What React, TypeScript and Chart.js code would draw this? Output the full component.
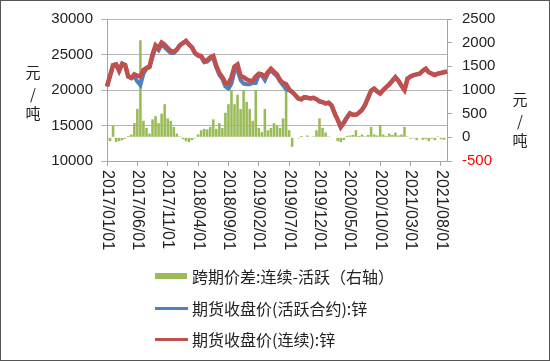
import React, { useEffect, useRef } from 'react';
import { Chart, registerables } from 'chart.js';

Chart.register(...registerables);

// Semi-monthly category labels, 2017/01/01 .. 2021/09/01
const START_YEAR = 2017;
const MONTH_COUNT = 56; // Jan 2017 .. Aug 2021 (two points per month) + 2021/09/01
const DATES: string[] = [];
for (let m = 0; m < MONTH_COUNT; m++) {
  const y = START_YEAR + Math.floor(m / 12);
  const mo = String((m % 12) + 1).padStart(2, '0');
  DATES.push(`${y}/${mo}/01`);
  DATES.push(`${y}/${mo}/16`);
}
DATES.push('2021/09/01');

const TICK_LABELS = [
  '2017/01/01', '2017/06/01', '2017/11/01', '2018/04/01', '2018/09/01', '2019/02/01',
  '2019/07/01', '2019/12/01', '2020/05/01', '2020/10/01', '2021/03/01', '2021/08/01',
];

const LEGEND_LABELS = ['跨期价差:连续-活跃（右轴）', '期货收盘价(活跃合约):锌', '期货收盘价(连续):锌'];
const AXIS_TITLE = ['元', '/', '吨'];

// 跨期价差 (right axis)
const SPREAD = [
  -50, -80, 250, -100, -80, -60, -30, 30, 60, 300,
  600, 2050, 350, 200, 80, 380, 450, 300, 500, 700,
  400, 350, 220, 80, 20, -40, -80, -100, -60, -20,
  60, 150, 180, 170, 220, 380, 180, 300, 200, 520,
  700, 1000, 700, 900, 600, 1000, 750, 600, 350, 1000,
  200, 110, 600, 150, 200, 300, 250, 200, 400, 1000,
  150, -200, 10, -20, 30, 10, 40, 0, 20, 150,
  400, 200, 100, 20, 0, 10, -80, -100, -60, 30,
  40, 50, 150, 30, 60, 20, 50, 220, 60, 40,
  260, 60, 30, 80, 50, 100, 40, 60, 220, 20,
  -30, -20, -60, 0, -50, -40, -80, -30, -60, 20,
  -40, -50, 0,
];

// 期货收盘价(活跃合约)
const ACTIVE = [
  20500, 22000, 23500, 23600, 22700, 23700, 23500, 21900, 21700, 21900,
  21200, 20700, 22300, 23000, 23200, 24700, 26000, 25600, 26400, 26000,
  25600, 25200, 25200, 25650, 26300, 26600, 26900, 26400, 26000, 25150,
  24800, 24650, 23900, 24000, 24400, 24500, 23200, 22150, 21550, 20500,
  20200, 20900, 22700, 22800, 21400, 20900, 20800, 20800, 21000, 21000,
  22100, 22050, 21400, 22300, 22800, 22300, 21950, 21200, 20650, 20100,
  19950, 19750, 19300, 18800, 18700, 19000, 18900, 18800, 18900, 18700,
  18400, 18300, 18100, 18200, 17800, 16700, 15800, 14800, 15400, 16100,
  16700, 16500, 16500, 16800, 17200, 17900, 18900, 19900, 20200, 19800,
  19500, 20000, 20400, 20800, 21300, 21800, 21300, 20600, 20000, 21600,
  21900, 22100, 22200, 22300, 22700, 23000, 22500, 22300, 22100, 22300,
  22400, 22500, 22600,
];

// 期货收盘价(连续)
const CONTINUOUS = [
  20500, 22000, 23500, 23600, 22700, 23700, 23500, 21900, 21700, 22200,
  22000, 21900, 22800, 23100, 23300, 25000, 26300, 25900, 26700, 26400,
  25900, 25500, 25400, 25700, 26300, 26600, 26900, 26400, 26000, 25200,
  24900, 24800, 24100, 24200, 24600, 24800, 23400, 22400, 21800, 21000,
  20900, 21800, 23300, 23600, 22000, 21800, 21500, 21300, 21300, 21900,
  22300, 22200, 21900, 22500, 23000, 22600, 22200, 21400, 21000, 20800,
  20100, 19700, 19300, 18800, 18700, 19000, 18900, 18800, 18900, 18700,
  18400, 18300, 18100, 18200, 17800, 16700, 15800, 14800, 15400, 16100,
  16700, 16500, 16500, 16800, 17200, 17900, 18900, 19900, 20200, 19800,
  19500, 20000, 20400, 20800, 21300, 21800, 21300, 20600, 20000, 21600,
  21900, 22100, 22200, 22300, 22700, 23000, 22500, 22300, 22100, 22300,
  22400, 22500, 22600,
];

const GREEN = '#9BBB59';
const BLUE = '#4F81BD';
const RED = '#C0504D';
const AXIS_GRAY = '#a6a6a6';
const TEXT = '#222';

const xLabelPlugin = {
  id: 'xLabelsClockwise',
  afterDraw(chart: any) {
    const sc = chart.scales.x;
    const ctx = chart.ctx;
    ctx.save();
    ctx.font = '16px "Liberation Sans", Arial, sans-serif';
    ctx.fillStyle = TEXT;
    ctx.textAlign = 'left';
    ctx.textBaseline = 'middle';
    sc.ticks.forEach((t: any, i: number) => {
      const x = sc.getPixelForTick(i);
      ctx.save();
      ctx.translate(x, sc.top + 9);
      ctx.rotate(Math.PI / 2);
      ctx.fillText(String(sc.getLabelForValue(t.value)), 0, 0);
      ctx.restore();
    });
    ctx.restore();
  },
};

export default function App() {
  const ref = useRef<HTMLCanvasElement | null>(null);

  useEffect(() => {
    document.body.style.margin = '0';
    if (!ref.current) return;
    const chart = new Chart(ref.current, {
      type: 'bar',
      data: {
        labels: DATES,
        datasets: [
          {
            type: 'bar',
            label: LEGEND_LABELS[0],
            data: SPREAD,
            backgroundColor: GREEN,
            borderWidth: 0,
            barPercentage: 0.85,
            categoryPercentage: 1,
            yAxisID: 'y1',
            order: 3,
          } as any,
          {
            type: 'line',
            label: LEGEND_LABELS[1],
            data: ACTIVE,
            borderColor: BLUE,
            borderWidth: 4,
            pointRadius: 0,
            tension: 0,
            yAxisID: 'y',
            order: 2,
          },
          {
            type: 'line',
            label: LEGEND_LABELS[2],
            data: CONTINUOUS,
            borderColor: RED,
            borderWidth: 4.5,
            pointRadius: 0,
            tension: 0,
            yAxisID: 'y',
            order: 1,
          },
        ],
      },
      options: {
        responsive: false,
        animation: false,
        layout: { padding: { top: 19, bottom: 100, left: 0, right: 0 } },
        plugins: { legend: { display: false }, tooltip: { enabled: false } },
        scales: {
          x: {
            type: 'category',
            offset: false,
            grid: { display: true, drawOnChartArea: false, offset: false, tickLength: 5, color: AXIS_GRAY },
            border: { display: true, color: AXIS_GRAY },
            ticks: {
              autoSkip: false,
              maxRotation: 90,
              minRotation: 90,
              color: 'rgba(0,0,0,0)',
              font: { size: 16, family: '"Liberation Sans", Arial, sans-serif' },
            },
            afterBuildTicks: (s: any) => {
              s.ticks = s.ticks.filter((t: any) => TICK_LABELS.includes(DATES[t.value]));
            },
            afterFit: (s: any) => {
              s.height = 100;
            },
          },
          y: {
            position: 'left',
            min: 10000,
            max: 30000,
            grid: { color: '#b5b5b5', tickLength: 6 },
            border: { display: true, color: AXIS_GRAY },
            ticks: {
              stepSize: 5000,
              padding: 8,
              color: TEXT,
              font: { size: 15, family: '"Liberation Sans", Arial, sans-serif' },
              callback: (v: any) => String(v),
            },
            afterFit: (s: any) => {
              s.width = 107;
            },
          },
          y1: {
            position: 'right',
            min: -500,
            max: 2500,
            grid: { drawOnChartArea: false, tickLength: 5, color: AXIS_GRAY },
            border: { display: true, color: AXIS_GRAY },
            ticks: {
              stepSize: 500,
              padding: 10,
              color: (c: any) => (c.tick && c.tick.value < 0 ? '#ff0000' : TEXT),
              font: { size: 15, family: '"Liberation Sans", Arial, sans-serif' },
              callback: (v: any) => String(v),
            },
            afterFit: (s: any) => {
              s.width = 103;
            },
          },
        },
      },
      plugins: [xLabelPlugin],
    });
    return () => chart.destroy();
  }, []);

  const cjk = '"Noto Sans CJK SC", "Noto Sans", sans-serif';
  const titleStyle = (x: number, y: number): React.CSSProperties => ({
    position: 'absolute',
    left: x - 10,
    top: y - 10,
    width: 20,
    height: 20,
    lineHeight: '20px',
    textAlign: 'center',
    fontFamily: cjk,
    fontSize: 15,
    color: TEXT,
  });
  const legendRow = (y: number): React.CSSProperties => ({
    position: 'absolute',
    left: 155,
    top: y - 11,
    height: 22,
    display: 'flex',
    alignItems: 'center',
    fontFamily: cjk,
    fontSize: 16,
    color: TEXT,
    whiteSpace: 'nowrap',
  });
  const leftY = [72, 94, 113];
  const rightY = [99, 121, 140];

  return (
    <div style={{ position: 'relative', width: 550, height: 361, background: '#fff', overflow: 'hidden' }}>
      <canvas ref={ref} width={550} height={361} style={{ position: 'absolute', left: 0, top: 0, width: 550, height: 361 }} />
      {AXIS_TITLE.map((t, i) => (
        <div key={'l' + i} style={titleStyle(33, leftY[i])}>{t}</div>
      ))}
      {AXIS_TITLE.map((t, i) => (
        <div key={'r' + i} style={titleStyle(520, rightY[i])}>{t}</div>
      ))}
      <div style={legendRow(276)}>
        <span style={{ display: 'inline-block', width: 32, height: 6, background: GREEN, marginRight: 5 }} />
        <span>{LEGEND_LABELS[0]}</span>
      </div>
      <div style={legendRow(308)}>
        <span style={{ display: 'inline-block', width: 33, height: 3, background: BLUE, marginRight: 4 }} />
        <span>{LEGEND_LABELS[1]}</span>
      </div>
      <div style={legendRow(339)}>
        <span style={{ display: 'inline-block', width: 33, height: 3, background: RED, marginRight: 4 }} />
        <span>{LEGEND_LABELS[2]}</span>
      </div>
      <div style={{ position: 'absolute', left: 0, top: 0, width: 550, height: 361, boxSizing: 'border-box', border: '1px solid #555', pointerEvents: 'none' }} />
    </div>
  );
}
